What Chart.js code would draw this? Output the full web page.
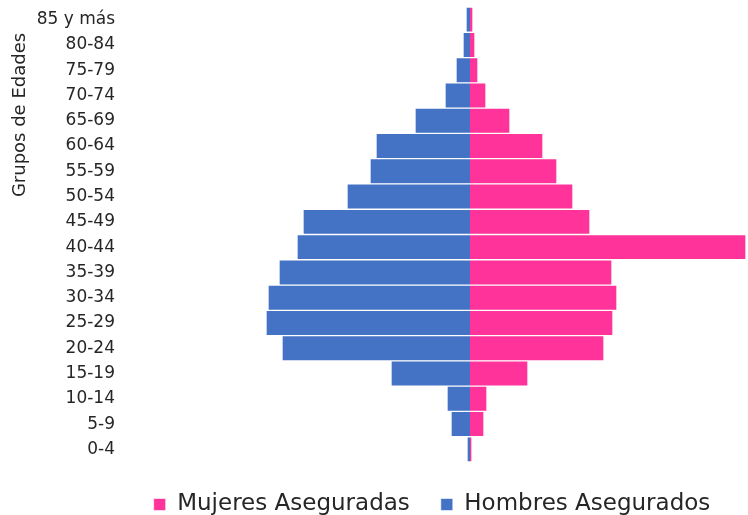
<!DOCTYPE html>
<html>
<head>
<meta charset="utf-8">
<script src="https://cdn.jsdelivr.net/npm/chart.js@4"></script>
<style>
  html, body { margin: 0; padding: 0; background: #fff; }
  #wrap { width: 748px; height: 515px; }
</style>
</head>
<body>
<div id="wrap"><canvas id="pyramid"></canvas></div>
<script>
// grupos de edades, de mayor a menor (arriba -> abajo)
const grupos = ['85 y más', '80-84', '75-79', '70-74', '65-69', '60-64', '55-59', '50-54', '45-49',
                '40-44', '35-39', '30-34', '25-29', '20-24', '15-19', '10-14', '5-9', '0-4'];
const mujeres = [3, 5, 8, 16, 40, 73, 87, 103, 120, 276, 142, 147, 143, 134, 58, 17, 14, 2];
const hombres = [4, 7, 14, 25, 55, 94, 100, 123, 167, 173, 191, 202, 204, 188, 79, 23, 19, 3];

const fuente = '"DejaVu Sans", sans-serif';

// titulo del eje dibujado a mano para ubicarlo como en el original
const tituloEje = {
  id: 'tituloEje',
  afterLayout(chart) {
    // la leyenda del original esta corrida a la derecha
    chart.legend.left += 59;
    chart.legend.right += 59;
  },
  afterDraw(chart) {
    const ctx = chart.ctx;
    ctx.save();
    ctx.translate(20, 115);
    ctx.rotate(-Math.PI / 2);
    ctx.font = '18px ' + fuente;
    ctx.fillStyle = '#262626';
    ctx.textAlign = 'center';
    ctx.textBaseline = 'middle';
    ctx.fillText('Grupos de Edades', 0, 0);
    ctx.restore();
  }
};

const ctx = document.getElementById('pyramid').getContext('2d');
new Chart(ctx, {
  type: 'bar',
  data: {
    labels: grupos,
    datasets: [
      {
        label: 'Mujeres Aseguradas',
        data: mujeres,
        backgroundColor: '#ff3399',
        borderColor: 'rgba(255,255,255,0.6)',
        borderWidth: 1
      },
      {
        label: 'Hombres Asegurados',
        data: hombres.map(v => -v),
        backgroundColor: '#4472c4',
        borderColor: 'rgba(255,255,255,0.6)',
        borderWidth: 1
      }
    ]
  },
  options: {
    indexAxis: 'y',
    responsive: true,
    maintainAspectRatio: false,
    animation: false,
    layout: { padding: { top: 7, right: 2, bottom: -11, left: 0 } },
    scales: {
      x: {
        stacked: true,
        display: false,
        min: -350,
        max: 276
      },
      y: {
        stacked: true,
        grid: { display: false, drawTicks: false },
        border: { display: false },
        ticks: {
          color: '#262626',
          padding: 5,
          font: { family: fuente, size: 17 }
        },
        afterFit(scale) {
          scale.width = 120;
          scale.paddingTop = 0;
          scale.paddingBottom = 0;
        }
      }
    },
    datasets: {
      bar: { barPercentage: 1, categoryPercentage: 1 }
    },
    plugins: {
      legend: {
        position: 'bottom',
        labels: {
          color: '#262626',
          boxWidth: 12,
          boxHeight: 12,
          padding: 31,
          font: { family: fuente, size: 23 }
        }
      },
      tooltip: { enabled: false }
    }
  },
  plugins: [tituloEje]
});
</script>
</body>
</html>
